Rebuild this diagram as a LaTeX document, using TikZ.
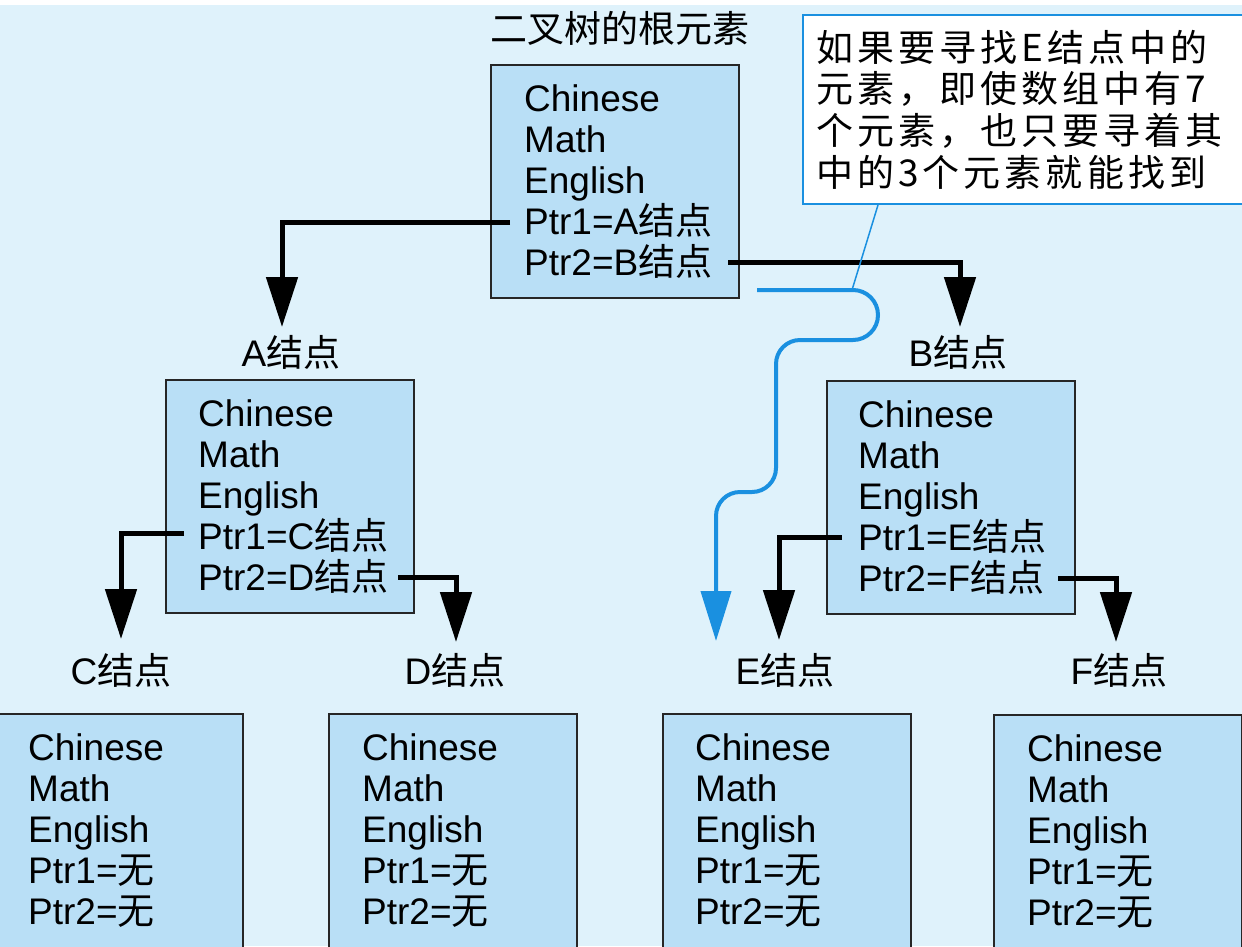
\documentclass[tikz,border=0pt]{standalone}
\usepackage{fontspec}
\setmainfont{Liberation Sans}
\newfontfamily\cjk{Noto Sans CJK SC}
\newfontfamily\cjkwide[LetterSpace=11]{Noto Sans CJK SC}
\usetikzlibrary{arrows.meta,calc}
\newcommand\zh[1]{{\cjk #1}}
\definecolor{bgc}{HTML}{DFF2FB}
\definecolor{boxc}{HTML}{B9DFF6}
\definecolor{bluec}{HTML}{1A90E0}
\begin{document}
\begin{tikzpicture}[x=1pt,y=1pt,
  box/.style={draw=black!85, line width=2pt, fill=boxc, minimum width=248pt, minimum height=233pt, inner sep=0pt, anchor=north west},
  lowbox/.style={box, minimum height=236pt},
  txt/.style={align=left, inner sep=0pt, font=\fontsize{37}{41}\selectfont, anchor=west},
  lbl/.style={inner sep=0pt, font=\fontsize{37}{41}\selectfont},
  ptr/.style={line width=5pt, -{Triangle[width=31pt,length=50pt]}},
  bluearrow/.style={draw=bluec, line width=4pt, -{Triangle[width=30pt,length=50pt]}},
  notebox/.style={draw=bluec, line width=2pt, fill=white, anchor=north west, text width=430pt, inner xsep=13pt, inner ysep=0pt, minimum height=189pt, align=left, font=\cjkwide\fontsize{37}{41.7}\selectfont}]
\useasboundingbox (0,0) rectangle (1242,-946);
\fill[bgc] (0,0) rectangle (1242,-946);
\fill[white] (0,0) rectangle (1242,-5);

% title
\node[lbl] (title) at (620,-28) {\zh{二叉树的根元素}};

% root
\node[box] (root) at (490,-64) {};
\node[txt] (rootT) at ([xshift=34pt]root.west) {Chinese\\Math\\English\\Ptr1=A\zh{结点}\\Ptr2=B\zh{结点}};

% A and B
\node[lbl] (lblA) at (291,-352) {A\zh{结点}};
\node[box] (A) at (165,-379) {};
\node[txt] (AT) at ([xshift=33pt]A.west) {Chinese\\Math\\English\\Ptr1=C\zh{结点}\\Ptr2=D\zh{结点}};

\node[lbl] (lblB) at (958,-352) {B\zh{结点}};
\node[box] (B) at (826,-380) {};
\node[txt] (BT) at ([xshift=32pt]B.west) {Chinese\\Math\\English\\Ptr1=E\zh{结点}\\Ptr2=F\zh{结点}};

% leaves
\node[lbl] (lblC) at (121,-670) {C\zh{结点}};
\node[lbl] (lblD) at (455,-670) {D\zh{结点}};
\node[lbl] (lblE) at (785,-670) {E\zh{结点}};
\node[lbl] (lblF) at (1119,-670) {F\zh{结点}};

\node[lowbox] (C) at (-6,-713) {};
\node[txt] (CT) at ([xshift=34pt,yshift=1.5pt]C.west) {Chinese\\Math\\English\\Ptr1=\zh{无}\\Ptr2=\zh{无}};
\node[lowbox] (D) at (328,-713) {};
\node[txt] (DT) at ([xshift=34pt,yshift=1.5pt]D.west) {Chinese\\Math\\English\\Ptr1=\zh{无}\\Ptr2=\zh{无}};
\node[lowbox] (E) at (662,-713) {};
\node[txt] (ET) at ([xshift=33pt,yshift=1.5pt]E.west) {Chinese\\Math\\English\\Ptr1=\zh{无}\\Ptr2=\zh{无}};
\node[lowbox] (F) at (993,-714) {};
\node[txt] (FT) at ([xshift=34pt,yshift=1.5pt]F.west) {Chinese\\Math\\English\\Ptr1=\zh{无}\\Ptr2=\zh{无}};

% pointer connectors
\coordinate (r1) at (510,-222);
\coordinate (r2) at (728,-262);
\coordinate (a1) at (184,-533);
\coordinate (a2) at (398,-577);
\coordinate (b1) at (842,-537);
\coordinate (b2) at (1058,-578);
\coordinate (tA) at (282,-327);
\coordinate (tB) at (960,-327);
\coordinate (tC) at (121,-639);
\coordinate (tD) at (456,-642);
\coordinate (tE) at (779,-640);
\coordinate (tF) at (1116,-642);
\draw[ptr] (r1) -| (tA);
\draw[ptr] (r2) -| (tB);
\draw[ptr] (a1) -| (tC);
\draw[ptr] (a2) -| (tD);
\draw[ptr] (b1) -| (tE);
\draw[ptr] (b2) -| (tF);

% callout
\node[notebox] (note) at (802,-14) {如果要寻找E结点中的\\元素，即使数组中有7\\个元素，也只要寻着其\\中的3个元素就能找到};
\coordinate (bend) at (852,-290);
\draw[bluec, line width=1.5pt] ($(note.south west)+(76,0)$) -- (bend);

% blue search path
\coordinate (bstart) at (757,-290);
\coordinate (etip) at (716,-641);
\draw[bluearrow] (bstart) -- (bend) -- (853,-290) arc[start angle=90, end angle=-90, radius=25]
  -- (800,-340) arc[start angle=90, end angle=180, radius=24]
  -- (776,-468) arc[start angle=0, end angle=-90, radius=24]
  -- (740,-492) arc[start angle=90, end angle=180, radius=24]
  -- (etip);
\end{tikzpicture}
\end{document}
